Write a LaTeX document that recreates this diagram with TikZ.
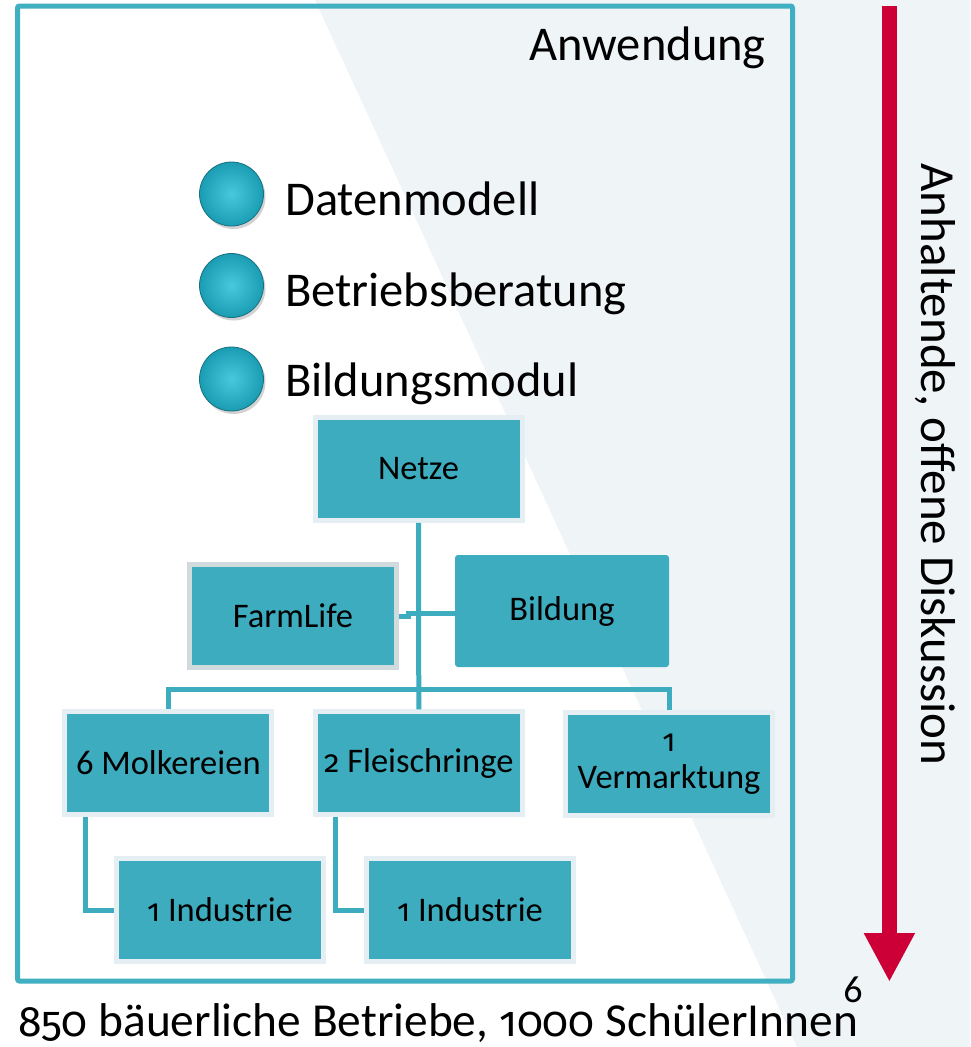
\documentclass[tikz,border=0pt]{standalone}
\usepackage{fontspec}
\setmainfont{Carlito}
\newfontfamily\osf{Fira Sans}[Numbers=OldStyle, Scale=0.9]
\usetikzlibrary{shadows,arrows.meta}
\definecolor{boxteal}{HTML}{3DACBF}
\definecolor{boxedge}{HTML}{E5EEF2}
\definecolor{farmedge}{HTML}{D1DADD}
\definecolor{frameteal}{HTML}{3FAFC1}
\definecolor{bgshade}{HTML}{EFF4F7}
\definecolor{arrowred}{HTML}{CC0036}
\definecolor{bulletin}{HTML}{48C9DD}
\definecolor{bulletout}{HTML}{1A9CB3}
\definecolor{bulletedge}{HTML}{17707F}
\begin{document}
\begin{tikzpicture}[x=1pt,y=-1pt,
  box/.style={rectangle, fill=boxteal, draw=boxedge, line width=5pt,
    minimum width=207pt, minimum height=102.5pt, inner sep=0pt,
    font=\fontsize{34.5}{36}\selectfont, align=center, text=black},
  conn/.style={draw=boxteal, line width=5pt},
  bullet/.style={circle, minimum size=64pt, inner sep=0pt, draw=bulletedge,
    line width=0.8pt, inner color=bulletin, outer color=bulletout,
    drop shadow={opacity=0.35, shadow xshift=2pt, shadow yshift=-3pt}},
  big/.style={font=\fontsize{48.5}{58}\selectfont, inner sep=0pt, text=black}
]
\useasboundingbox (0,0) rectangle (970,1047);
\fill[white] (0,0) rectangle (970,1047);
\fill[bgshade] (315,0) -- (970,0) -- (970,1047) -- (797,1047) -- cycle;
\draw[draw=frameteal, line width=5pt, rounded corners=2pt] (17.5,6) rectangle (792.5,981);

% title
\node[big, anchor=base east] (title) at (766,60) {Anwendung};

% bullets
\node[bullet] (b1) at (231.5,194) {};
\node[bullet] (b2) at (231.5,285.5) {};
\node[bullet] (b3) at (231.5,379) {};
\node[big, anchor=base west] (t1) at (285,215) {Datenmodell};
\node[big, anchor=base west] (t2) at (285,306.5) {Betriebsberatung};
\node[big, anchor=base west] (t3) at (285,396.5) {Bildungsmodul};

% org chart
\node[box] (netze) at (418.5,469) {Netze};
\node[box, draw=farmedge] (farm) at (293,616) {FarmLife};
\node[box, draw=none, line width=0pt, rounded corners=3pt,
  minimum width=214pt, minimum height=112pt] (bild) at (562,611) {Bildung};
\node[box] (molk) at (168.3,763) {6 Molkereien};
\node[box] (fleisch) at (418.8,763) {{\osf 2} Fleischringe};
\node[box] (verm) at (669,764) {{\osf 1}\\[1pt]Vermarktung};
\node[box] (ind1) at (220,910) {{\osf 1} Industrie};
\node[box] (ind2) at (470,910) {{\osf 1} Industrie};

\coordinate (bus) at (418.8,689);
\coordinate (fj) at (418.8,613);
\draw[conn] (netze.south) -- (fleisch.north);
\draw[conn] (molk.north) |- (bus) -| (verm.north);
\draw[conn] (farm.east) -- ++(9,0) |- (fj);
\draw[conn] (fj) -- (fj -| bild.west);
\draw[conn] ([xshift=-82.6pt]molk.south) |- (ind1.west);
\draw[conn] ([xshift=-83pt]fleisch.south) |- (ind2.west);

% red arrow
\coordinate (atop) at (889.4,6);
\coordinate (abot) at (889.4,982);
\draw[arrowred, line width=15.3pt, -{Triangle[width=47.6pt,length=49pt]}] (atop) -- (abot);
\node[big, font=\fontsize{49}{58}\selectfont, rotate=-90, anchor=base west] (side) at (921.7,163.3) {Anhaltende, offene Diskussion};

% footer
\node[font=\fontsize{47.4}{56}\selectfont, inner sep=0pt, anchor=base west] (foot) at (18,1036.5) {{\osf 850} bäuerliche Betriebe, {\osf 1000} SchülerInnen};
\node[font=\fontsize{38}{44}\selectfont, inner sep=0pt, anchor=base] (pnum) at (853,1002) {6};
\end{tikzpicture}
\end{document}
